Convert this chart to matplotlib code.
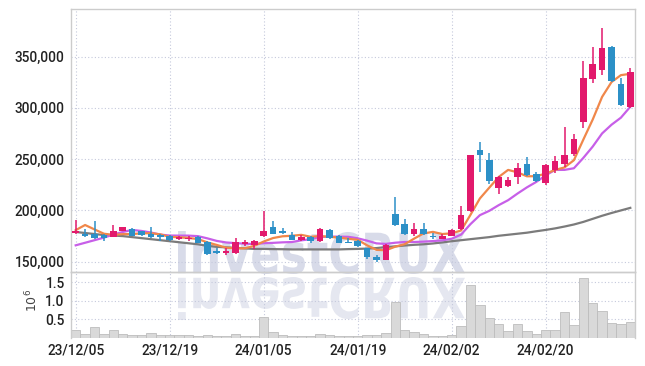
import numpy as np
import pandas as pd
import matplotlib
matplotlib.use("Agg")
import matplotlib.pyplot as plt
from matplotlib import font_manager
from matplotlib.textpath import TextPath
from matplotlib.patches import PathPatch
from matplotlib.font_manager import FontProperties
from matplotlib.transforms import Affine2D
from matplotlib.ticker import FuncFormatter

# x axis labels (every 10 trading days)
tick_pos = [0, 10, 20, 30, 40, 50]
tick_labels = ["23/12/05", "23/12/19", "24/01/05", "24/01/19", "24/02/02", "24/02/20"]

# daily prices, thousand won
opens = [178, 177.5, 177, 176.5, 174.5, 180, 181.5, 179.5, 177.5, 176.5,
         175.5, 172.5, 172, 174, 169.5, 160.5, 159, 159, 167.5, 166,
         175, 184, 180, 176.5, 171, 174, 170, 180.5, 175.5, 169.7,
         170, 163, 155, 152, 196.5, 186.5, 177.5, 181.5, 175, 172.5,
         175.5, 182.3, 199.2, 258.5, 249.6, 221.9, 223.9, 232.8, 245.2, 235.3,
         226.9, 239.2, 245.2, 255.1, 286.2, 328.4, 336.7, 359.6, 322.9, 300.6]
highs = [191, 181.5, 190, 177, 186, 184, 183, 180, 184, 177,
         176, 175, 175, 175, 170, 163, 163.5, 173, 171.5, 171,
         199, 190, 183, 178.5, 176, 175, 182.5, 182, 176.5, 173,
         171, 163.5, 157, 167, 213, 192, 188, 187.5, 178, 177,
         182, 204.1, 254, 266.4, 255.5, 233.8, 232.8, 246.2, 251.6, 237.7,
         245.7, 252.6, 281.3, 274.3, 345.6, 359.1, 377.7, 360.1, 328.8, 338.8]
lows = [177, 174.5, 172, 170, 174, 179.5, 175, 175, 173, 170.5,
        170.5, 171.5, 170, 168, 157, 158, 156.5, 158, 165, 162,
        174.5, 177, 177.5, 171, 170, 168.5, 169, 172, 168, 168,
        164, 153, 150, 151.5, 185, 176, 175, 176, 172, 172,
        175, 181.3, 198.2, 237.7, 225.9, 216.0, 222.4, 225.9, 233.8, 227.9,
        225.0, 236.2, 242.7, 252.6, 280.3, 323.9, 331.8, 324.9, 301.6, 300.1]
closes = [180, 175, 173, 173.5, 179.5, 183.5, 175.5, 176.5, 174, 174,
          171, 174, 173, 168.5, 158, 158.5, 160.5, 169.5, 169, 170,
          179.5, 177.5, 178, 171.5, 174.5, 170, 181.5, 173.5, 168.5, 168.4,
          165, 154.5, 151.5, 166.5, 186, 177, 181.5, 177, 174, 175.5,
          180.5, 195.2, 253.6, 253.6, 228.2, 232.3, 229.8, 241.7, 234.3, 228.8,
          244.7, 247.7, 254.1, 269.4, 328.9, 342.7, 358.1, 326.4, 303.1, 335.3]

# volume, million shares
volume = [0.21, 0.10, 0.28, 0.10, 0.21, 0.10, 0.06, 0.06, 0.12, 0.07,
          0.07, 0.06, 0.06, 0.03, 0.07, 0.04, 0.03, 0.10, 0.05, 0.03,
          0.55, 0.15, 0.07, 0.04, 0.03, 0.03, 0.10, 0.07, 0.04, 0.04,
          0.04, 0.07, 0.08, 0.13, 0.96, 0.20, 0.16, 0.10, 0.04, 0.04,
          0.06, 0.31, 1.42, 0.88, 0.54, 0.37, 0.18, 0.37, 0.18, 0.10,
          0.21, 0.21, 0.69, 0.35, 1.62, 0.94, 0.72, 0.40, 0.37, 0.43]

# moving averages: values before enough in-range data
ma5_head = [180.8, 185.8, 181.5, 177.3]
ma10_head = [166, 168.5, 171, 173.5, 176.5, 179, 181, 180, 178.5]
ma60 = [179, 178, 177, 176, 175.5, 175, 174, 173, 172, 171,
        170, 169, 168, 167, 165.5, 164.5, 164, 163.5, 163, 162.5,
        162.5, 162.3, 162.2, 162, 162, 162, 162, 162, 162, 162.3,
        162.5, 162.8, 163.3, 164.3, 165, 165.8, 166.5, 167, 167.8, 168.8,
        170, 171, 172, 173, 174, 175.3, 176.3, 177.3, 178.3, 179.7,
        181, 182.5, 184.3, 186.3, 188.8, 191.8, 194.8, 197.5, 200, 202.5]

UP = "#e2196c"
DOWN = "#2c90c7"

# narrow font for the labels if there is one
label_family = "Roboto"
label_size = 9.8
try:
    font_manager.findfont(FontProperties(family="Liberation Sans Narrow"), fallback_to_default=False)
    label_family = "Liberation Sans Narrow"
    label_size = 10.8
except ValueError:
    pass
plt.rcParams["font.family"] = [label_family, "DejaVu Sans"]

fig = plt.figure(figsize=(6.45, 3.66), dpi=100)
W, H = 645, 366
left, right, top, mid, bottom = 71, 635, 9, 272, 337.5
ax = fig.add_axes([left / W, 1 - mid / H, (right - left) / W, (mid - top) / H])
axv = fig.add_axes([left / W, 1 - bottom / H, (right - left) / W, (bottom - mid) / H], sharex=ax)
for a in (ax, axv):
    a.set_facecolor("none")

# watermark with its reflection
wm_prop = FontProperties(family="DejaVu Sans", weight="bold")
tp = TextPath((0, 0), "investCRUX", size=1, prop=wm_prop)
bb = tp.get_extents()
sx = 287 / bb.width
sy = 43 / bb.height
tr_main = (Affine2D().translate(-bb.x0, -bb.y0).scale(sx / 100, sy / 100)
           .translate(178 / 100, (H - 274) / 100) + fig.dpi_scale_trans)
tr_refl = (Affine2D().translate(-bb.x0, -bb.y0).scale(sx / 100, -sy / 100)
           .translate(178 / 100, (H - 277) / 100) + fig.dpi_scale_trans)
fig.add_artist(PathPatch(tp, transform=tr_main, color="#d8dbe9", lw=0, zorder=-1))
fig.add_artist(PathPatch(tp, transform=tr_refl, color="#e5e7f0", lw=0, zorder=-1))

x = np.arange(len(closes))
o = np.array(opens) * 1000
h = np.array(highs) * 1000
l = np.array(lows) * 1000
c = np.array(closes) * 1000
colors = [UP if cc >= oo else DOWN for oo, cc in zip(o, c)]

# moving averages
ma5 = pd.Series(closes).rolling(5).mean().to_numpy()
ma5[:len(ma5_head)] = ma5_head
ma10 = pd.Series(closes).rolling(10).mean().to_numpy()
ma10[:len(ma10_head)] = ma10_head
ax.plot(x, np.array(ma60) * 1000, color="#7b7b7b", lw=1.6, zorder=2)
ax.plot(x, ma10 * 1000, color="#c75fe8", lw=1.6, zorder=2)
ax.plot(x, ma5 * 1000, color="#f0874a", lw=1.6, zorder=2)

# candles
ax.vlines(x, l, h, colors=colors, lw=1.1, zorder=3)
body_low = np.minimum(o, c)
body_h = np.maximum(np.abs(c - o), 700)
ax.bar(x, body_h, bottom=body_low, width=0.72, color=colors, zorder=4)

# volume
axv.bar(x, volume, width=1.0, color="#d9d9d9", edgecolor="#bdbdbd", lw=0.6, zorder=2)

grid_kw = dict(color="#c5c9dc", linestyle=(0, (1, 2)), lw=0.8)
ax.set_ylim(140000, 396300)
ax.set_yticks([150000, 200000, 250000, 300000, 350000])
ax.yaxis.set_major_formatter(FuncFormatter(lambda v, p: f"{v:,.0f}"))
ax.grid(True, **grid_kw)
ax.set_xlim(-0.5, 59.5)
ax.set_xticks(tick_pos)
ax.tick_params(axis="x", labelbottom=False, length=0)

axv.set_ylim(0, 1.78)
axv.set_yticks([0.5, 1.0, 1.5])
axv.yaxis.set_major_formatter(FuncFormatter(lambda v, p: f"{v:.1f}"))
axv.grid(True, **grid_kw)
axv.set_xticks(tick_pos)
axv.set_xticklabels(tick_labels)

for a in (ax, axv):
    a.tick_params(length=0, labelsize=label_size, labelcolor="#222222", pad=4.5)
    for lab in a.get_xticklabels() + a.get_yticklabels():
        lab.set_fontweight("medium")
    a.set_axisbelow(True)
    for s in a.spines.values():
        s.set_color("#cccccc")
        s.set_linewidth(1.0)
axv.spines["bottom"].set_visible(False)

fig.text(32 / W, 1 - 300 / H, "$10^6$", rotation=90, ha="center", va="center",
         fontsize=9, color="#444444")

fig.savefig("out.png", dpi=100)
